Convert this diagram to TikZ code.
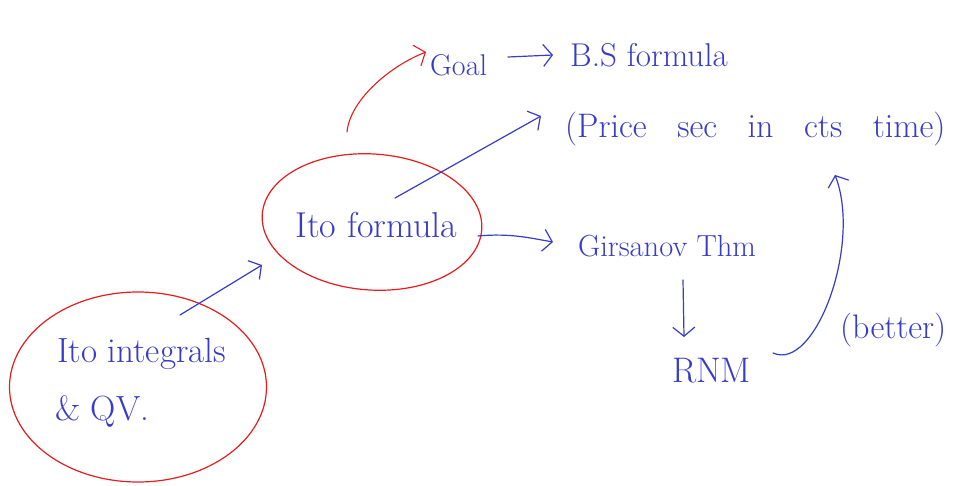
\documentclass[tikz,border=0pt]{standalone}
\usetikzlibrary{arrows.meta,shapes.geometric}
\definecolor{pen}{RGB}{55,60,200}
\definecolor{redpen}{RGB}{232,28,28}
\tikzset{
  hw/.style={text=pen, inner sep=0pt, anchor=base west},
  bluearr/.style={draw=pen, line width=1.2pt, line cap=round, -{Straight Barb[length=9pt,width=22pt,line width=1.2pt]}},
  redarr/.style={draw=redpen, line width=1.1pt, line cap=round, -{Straight Barb[length=9pt,width=22pt,line width=1.1pt]}},
  redring/.style={draw=redpen, line width=1.2pt, ellipse, inner sep=0pt},
}
\newcommand{\fs}[1]{\fontsize{#1}{#1}\selectfont}
\begin{document}
\begin{tikzpicture}[x=1pt,y=-1pt]
\fill[white] (0,0) rectangle (955,486);
\useasboundingbox (0,0) rectangle (955,486);

% rings
\node[redring, minimum width=257pt, minimum height=190pt] (ringA) at (138,387) {};
\node[redring, minimum width=220pt, minimum height=136pt, rotate=-4] (ringB) at (372,222) {};

% texts
\node[hw, font=\fs{35}] (intA) at (57,362) {Ito integrals};
\node[hw, font=\fs{35}] (intB) at (55,420) {\& QV.};
\node[hw, font=\fs{36}] (ito) at (295,238) {Ito formula};
\node[hw, font=\fs{30}] (goal) at (430,76) {Goal};
\node[hw, font=\fs{33}] (bs) at (570,67) {B.S formula};
\node[hw, font=\fs{34}] (price) at (565,138) {(Price\hspace{0.9em}sec\hspace{0.9em}in\hspace{0.9em}cts\hspace{0.9em}time)};
\node[hw, font=\fs{30.5}] (gir) at (578,257) {Girsanov Thm};
\node[hw, font=\fs{35.5}] (rnm) at (672,382) {RNM};
\node[hw, font=\fs{34}] (better) at (840,338) {(better)};

% free ends
\coordinate (aS) at (180,315);
\coordinate (aE) at (262,265);
\coordinate (bS) at (395,198);
\coordinate (bE) at (541,116);
\coordinate (cS) at (478,236);
\coordinate (cE) at (553,242);
\coordinate (dS) at (508,57);
\coordinate (dE) at (553,55);
\coordinate (eS) at (683,280);
\coordinate (eE) at (684,337);
\coordinate (fS) at (773,353);
\coordinate (fE) at (835,175);
\coordinate (gS) at (347,132);
\coordinate (gE) at (426,52);

% connectors
\draw[bluearr] (aS) -- (aE);
\draw[bluearr] (bS) -- (bE);
\draw[bluearr] (cS) .. controls (510,233) and (530,238) .. (cE);
\draw[bluearr] (dS) -- (dE);
\draw[bluearr] (eS) -- (eE);
\draw[bluearr] (fS) .. controls (815,372) and (862,245) .. (fE);
\draw[redarr] (gS) .. controls (350,100) and (390,66) .. (gE);
\end{tikzpicture}
\end{document}
